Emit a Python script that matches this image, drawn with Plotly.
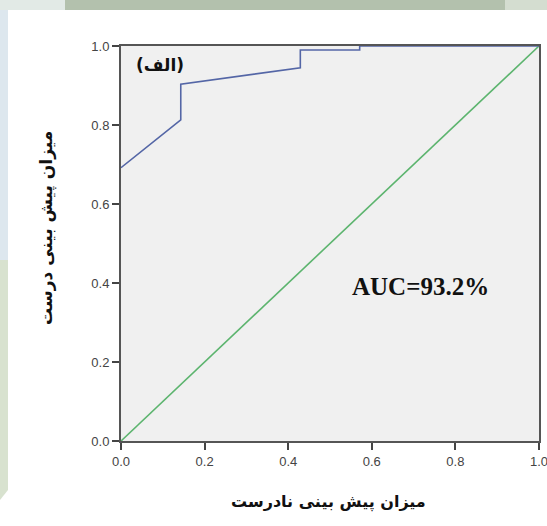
import plotly.graph_objects as go

# ROC curve (false positive rate vs true positive rate)
fpr = [0.0, 0.143, 0.143, 0.429, 0.429, 0.571, 0.571, 1.0]
tpr = [0.692, 0.813, 0.903, 0.945, 0.990, 0.990, 1.0, 1.0]

# Reference (chance) line
ref_x = [0.0, 1.0]
ref_y = [0.0, 1.0]

tick_vals = [0.0, 0.2, 0.4, 0.6, 0.8, 1.0]
tick_text = ["0.0", "0.2", "0.4", "0.6", "0.8", "1.0"]

auc_label = "AUC=93.2%"
panel_label = "(الف)"
x_title = "میزان پیش بینی نادرست"
y_title = "میزان پیش بینی درست"

W, H = 547, 526
L, R, T, B = 121, 8, 46, 85
pw, ph = W - L - R, H - T - B


def px(x):
    return (x - L) / pw


def py(y):
    return (H - B - y) / ph


fig = go.Figure()

fig.add_trace(go.Scatter(x=ref_x, y=ref_y, mode="lines",
                         line=dict(color="#5cb46e", width=1.6),
                         hoverinfo="skip", showlegend=False))
fig.add_trace(go.Scatter(x=fpr, y=tpr, mode="lines",
                         line=dict(color="#5466a6", width=1.6),
                         showlegend=False))

# page decoration strips along the top and left edges
shapes = [
    dict(type="rect", xref="paper", yref="paper", layer="below",
         x0=px(0), x1=px(W), y0=py(10), y1=py(0),
         fillcolor="#b3c1ad", line=dict(width=0)),
    dict(type="rect", xref="paper", yref="paper", layer="below",
         x0=px(0), x1=px(65), y0=py(10), y1=py(0),
         fillcolor="#e2eae6", line=dict(width=0)),
    dict(type="rect", xref="paper", yref="paper", layer="below",
         x0=px(505), x1=px(W), y0=py(10), y1=py(0),
         fillcolor="#d4ddd0", line=dict(width=0)),
    dict(type="rect", xref="paper", yref="paper", layer="below",
         x0=px(0), x1=px(8), y0=py(260), y1=py(10),
         fillcolor="#dde7ee", line=dict(width=0)),
    dict(type="path", xref="paper", yref="paper", layer="below",
         path=(f"M {px(0)},{py(260)} L {px(8)},{py(260)} "
               f"L {px(8)},{py(490)} L {px(0)},{py(500)} Z"),
         fillcolor="#d8e2cf", line=dict(width=0)),
]

annotations = [
    dict(x=0.093, y=0.952, xref="x", yref="y", text=f"<b>{panel_label}</b>",
         xanchor="center", yanchor="middle", showarrow=False,
         font=dict(family="DejaVu Sans", size=17, color="#111")),
    dict(x=0.716, y=0.39, xref="x", yref="y", text=f"<b>{auc_label}</b>",
         xanchor="center", yanchor="middle", showarrow=False,
         font=dict(family="Liberation Serif", size=25, color="#111")),
    dict(x=px(328), y=py(502), xref="paper", yref="paper",
         text=f"<b>{x_title}</b>", xanchor="center", yanchor="middle",
         showarrow=False,
         font=dict(family="DejaVu Sans", size=16, color="#111")),
    dict(x=px(46), y=py(228), xref="paper", yref="paper",
         text=f"<b>{y_title}</b>", xanchor="center", yanchor="middle",
         showarrow=False, textangle=-90,
         font=dict(family="DejaVu Sans", size=17, color="#111")),
]

axis_common = dict(
    range=[0, 1], tickvals=tick_vals, ticktext=tick_text,
    ticks="outside", ticklen=7, tickwidth=1.5, tickcolor="#444",
    showline=True, linecolor="#555", linewidth=2, mirror=True,
    showgrid=False, zeroline=False, automargin=False,
    ticklabeloverflow="allow",
    tickfont=dict(family="Liberation Sans", size=13, color="#444"),
)

fig.update_layout(
    width=W, height=H,
    margin=dict(l=L, r=R, t=T, b=B, pad=0),
    paper_bgcolor="white", plot_bgcolor="#f0f0f0",
    xaxis=axis_common, yaxis=axis_common,
    shapes=shapes, annotations=annotations,
    showlegend=False,
)

fig.write_html("out.html")
